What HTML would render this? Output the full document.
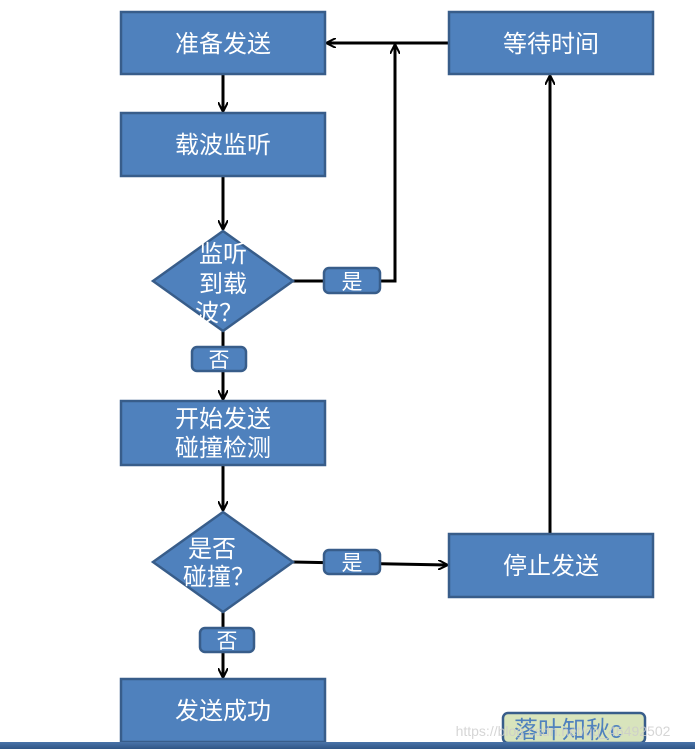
<!DOCTYPE html>
<html><head><meta charset="utf-8"><style>
body{margin:0;background:#fff;width:695px;height:749px;overflow:hidden}
svg text{font-family:"Liberation Sans","Noto Sans CJK SC",sans-serif;fill:#fff;text-anchor:middle}
</style></head><body>
<svg width="695" height="749" xmlns="http://www.w3.org/2000/svg">
<defs><marker id="a" markerWidth="10" markerHeight="10" refX="9" refY="5" orient="auto" markerUnits="userSpaceOnUse"><path d="M0,0 L10,5 L0,10" fill="none" stroke="#000" stroke-width="2"/></marker>
<linearGradient id="g" x1="0" y1="0" x2="0" y2="1"><stop offset="0" stop-color="#4a74aa"/><stop offset="1" stop-color="#2f5585"/></linearGradient></defs>
<g stroke="#000" stroke-width="3" fill="none">
<line x1="223" y1="74" x2="223" y2="111" marker-end="url(#a)"/>
<line x1="223" y1="176" x2="223" y2="229" marker-end="url(#a)"/>
<line x1="223" y1="331" x2="223" y2="399" marker-end="url(#a)"/>
<line x1="223" y1="465" x2="223" y2="510" marker-end="url(#a)"/>
<line x1="223" y1="612" x2="223" y2="677" marker-end="url(#a)"/>
<polyline points="293,281 395,281 395,45" marker-end="url(#a)"/>
<line x1="449" y1="43" x2="327" y2="43" marker-end="url(#a)"/>
<line x1="293" y1="562" x2="447" y2="565" marker-end="url(#a)"/>
<line x1="550" y1="534" x2="550" y2="76" marker-end="url(#a)"/>
</g>
<g fill="#4f81bd" stroke="#385d8a" stroke-width="2.5">
<rect x="121" y="12" width="204" height="62"/>
<rect x="121" y="113" width="204" height="63"/>
<rect x="121" y="401" width="204" height="64"/>
<rect x="121" y="679" width="204" height="63"/>
<rect x="449" y="12" width="204" height="62"/>
<rect x="449" y="534" width="204" height="63"/>
<polygon points="153,281 223,231 293,281 223,331"/>
<polygon points="153,562 223,512 293,562 223,612"/>
<rect x="324" y="268" width="56" height="25" rx="5"/>
<rect x="192" y="347" width="54" height="24" rx="5"/>
<rect x="324" y="550" width="56" height="24" rx="5"/>
<rect x="200" y="628" width="54" height="24" rx="5"/>
</g>
<g font-size="24">
<text x="223" y="52">准备发送</text>
<text x="223" y="153">载波监听</text>
<text x="223" y="427">开始发送</text>
<text x="223" y="456">碰撞检测</text>
<text x="223" y="719">发送成功</text>
<text x="551" y="52">等待时间</text>
<text x="551" y="574">停止发送</text>
<text x="223" y="262">监听</text>
<text x="223" y="292">到载</text>
<text x="219" y="321">波？</text>
<text x="212" y="557">是否</text>
<text x="219" y="585">碰撞？</text>
</g>
<g font-size="21">
<text x="352" y="289">是</text>
<text x="219" y="367">否</text>
<text x="352" y="570">是</text>
<text x="227" y="648">否</text>
</g>
<rect x="503" y="713" width="142" height="30" rx="5" fill="#d8e4bc" stroke="#385d8a" stroke-width="2.5"/>
<text x="568" y="738" font-size="24" style="fill:#4f81bd">落叶知秋c</text>
<text x="563" y="736" font-size="14" style="fill:#ccc;opacity:.8">https://blog.csdn.net/qq_46492502</text>
<rect x="0" y="742" width="695" height="7" fill="url(#g)"/>
</svg>
</body></html>
